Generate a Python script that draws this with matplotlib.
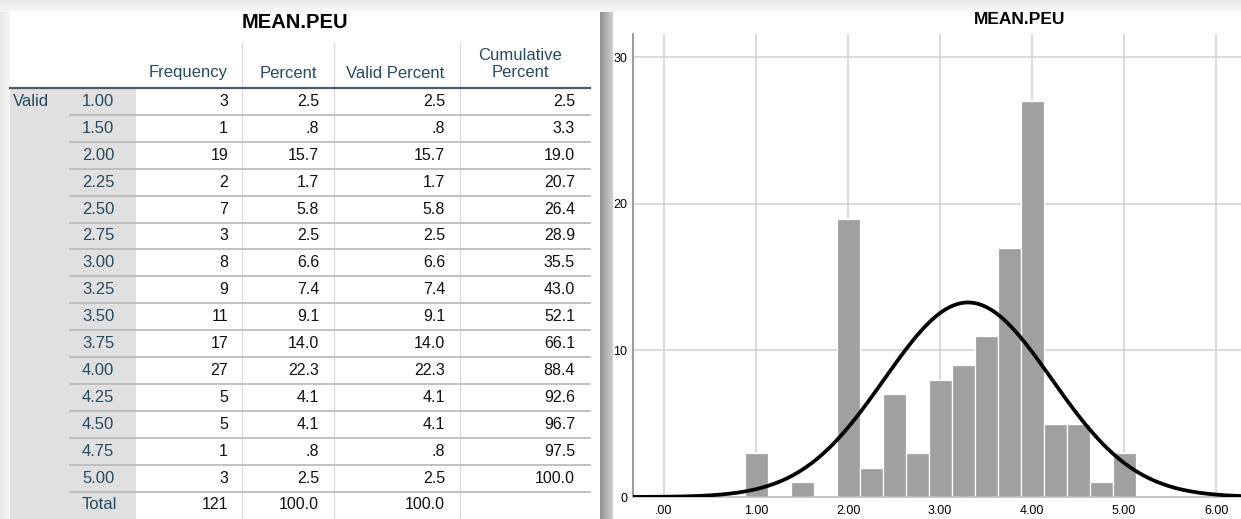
import numpy as np
import matplotlib
matplotlib.use("Agg")
import matplotlib.pyplot as plt
from matplotlib.patches import Rectangle

plt.rcParams['font.family'] = ['Liberation Sans', 'DejaVu Sans']

# Frequency table for MEAN.PEU
var_name = "MEAN.PEU"
scores = [1.00, 1.50, 2.00, 2.25, 2.50, 2.75, 3.00, 3.25, 3.50, 3.75, 4.00, 4.25, 4.50, 4.75, 5.00]
frequency = [3, 1, 19, 2, 7, 3, 8, 9, 11, 17, 27, 5, 5, 1, 3]
percent = [2.5, 0.8, 15.7, 1.7, 5.8, 2.5, 6.6, 7.4, 9.1, 14.0, 22.3, 4.1, 4.1, 0.8, 2.5]
valid_percent = [2.5, 0.8, 15.7, 1.7, 5.8, 2.5, 6.6, 7.4, 9.1, 14.0, 22.3, 4.1, 4.1, 0.8, 2.5]
cumulative = [2.5, 3.3, 19.0, 20.7, 26.4, 28.9, 35.5, 43.0, 52.1, 66.1, 88.4, 92.6, 96.7, 97.5, 100.0]
total_n = 121
total_pct = 100.0
col_headers = ["Frequency", "Percent", "Valid Percent", "Cumulative\nPercent"]
x_ticks = [0, 1, 2, 3, 4, 5, 6]
y_ticks = [0, 10, 20, 30]
bin_width = 0.25


def spss_num(v, digits=1):
    s = f"{v:.{digits}f}"
    return s[1:] if s.startswith("0.") else s


W, H = 1241, 519
fig = plt.figure(figsize=(W / 100, H / 100), dpi=100, facecolor='white')

# ---- background layer in pixel coordinates ----
bg = fig.add_axes([0, 0, 1, 1])
bg.set_xlim(0, W)
bg.set_ylim(H, 0)
bg.axis('off')

# soft drop shadows around the two panels
top_grad = np.linspace(0.90, 0.97, 12)[:, None] * np.ones((1, 10))
bg.imshow(top_grad, cmap='gray', vmin=0, vmax=1, extent=[0, W, 12, 0], aspect='auto')
left_grad = np.linspace(0.91, 0.96, 10)[None, :] * np.ones((10, 1))
bg.imshow(left_grad, cmap='gray', vmin=0, vmax=1, extent=[0, 10, H, 12], aspect='auto')
sep_grad = np.linspace(0.58, 0.80, 13)[None, :] * np.ones((10, 1))
bg.imshow(sep_grad, cmap='gray', vmin=0, vmax=1, extent=[600, 613, H, 12], aspect='auto')
bg.add_patch(Rectangle((10, 12), 590, H - 12, color='white', lw=0))
bg.add_patch(Rectangle((613, 12), W - 613, H - 12, color='white', lw=0))

# ---- frequency table ----
hdr_color = '#264a60'
row_top, row_h = 88, 26.9
col_lines = [242, 334, 460]
col_right = [228, 319, 445, 575]
col_center = [188, 288, 395, 520]

bg.text(295, 22, var_name, ha='center', va='center', fontsize=14.5, fontweight='bold', color='black')
bg.add_patch(Rectangle((10, row_top), 126, H - row_top, color='#e0e0e0', lw=0))
for xc in col_lines:
    bg.plot([xc, xc], [43, H], color='#dcdcdc', lw=1.0)
for i, h in enumerate(col_headers):
    yy = 64 if "\n" in h else 73
    bg.text(col_center[i], yy, h, ha='center', va='center', fontsize=12,
            color=hdr_color, linespacing=1.15)
bg.plot([10, 590], [row_top, row_top], color='#4a5b68', lw=1.6)

rows = []
for s, f, p, vp, c in zip(scores, frequency, percent, valid_percent, cumulative):
    rows.append((f"{s:.2f}", str(f), spss_num(p), spss_num(vp), spss_num(c)))
rows.append(("Total", str(total_n), spss_num(total_pct), spss_num(total_pct), ""))

for r, row in enumerate(rows):
    yc = row_top + row_h * (r + 0.5)
    if r > 0:
        yl = row_top + row_h * r
        bg.plot([70, 590], [yl, yl], color='#bcbcbc', lw=1.3)
    bg.text(82, yc, row[0], ha='left', va='center', fontsize=12, color=hdr_color)
    for j in range(4):
        bg.text(col_right[j], yc, row[j + 1], ha='right', va='center', fontsize=11.5, color='#111111')
bg.text(13, row_top + row_h * 0.5, "Valid", ha='left', va='center', fontsize=12, color=hdr_color)

bg.text(1020, 20, var_name, ha='center', va='center', fontsize=12.5, fontweight='bold', color='black')

# ---- histogram with normal curve ----
x0, x1 = -0.337, 6.27
ax = fig.add_axes([633 / W, 22 / H, (W - 633) / W, 463 / H])
ax.set_xlim(x0, x1)
ax.set_ylim(0, 31.6)
ax.grid(True, color='#cfcfcf', lw=1.1, zorder=0)
ax.set_axisbelow(True)
ax.bar(scores, frequency, width=bin_width, color='#a0a0a0', edgecolor='white', lw=0.9, zorder=2)

vals = np.repeat(scores, frequency)
mu = vals.mean()
sd = vals.std(ddof=1)
xs = np.linspace(x0, x1, 400)
pdf = len(vals) * bin_width / (sd * np.sqrt(2 * np.pi)) * np.exp(-0.5 * ((xs - mu) / sd) ** 2)
ax.plot(xs, pdf, color='black', lw=2.7, zorder=3, solid_capstyle='round')

ax.set_xticks(x_ticks)
ax.set_xticklabels([spss_num(v, 2) for v in x_ticks])
ax.set_yticks(y_ticks)
ax.set_yticklabels([str(v) for v in y_ticks])
ax.tick_params(length=0, labelsize=9, colors='black')
ax.tick_params(axis='x', pad=6)
ax.tick_params(axis='y', pad=4)
for side in ['top', 'right']:
    ax.spines[side].set_visible(False)
ax.spines['left'].set_color('#8a8a8a')
ax.spines['left'].set_linewidth(1.2)
ax.spines['bottom'].set_color('#bdbdbd')
ax.spines['bottom'].set_linewidth(1.2)

fig.savefig('out.png', dpi=100, facecolor='white')
